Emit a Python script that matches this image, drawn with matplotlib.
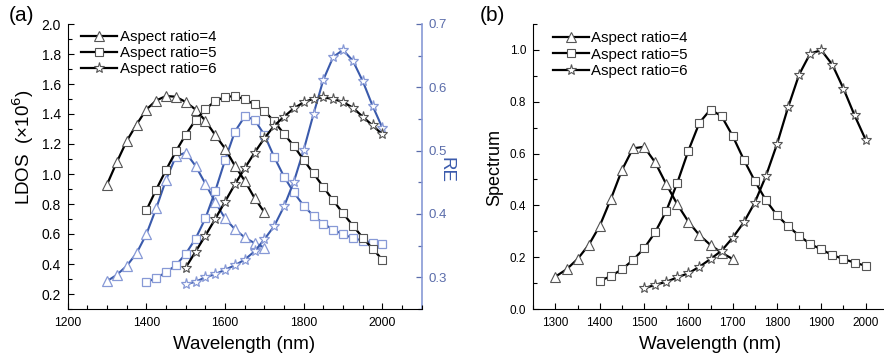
import numpy as np
import matplotlib
matplotlib.use("Agg")
import matplotlib.pyplot as plt
from matplotlib.ticker import MultipleLocator

plt.rcParams['font.family'] = ['Liberation Sans', 'DejaVu Sans']

# ---------------- data ----------------
wl4 = list(range(1300, 1701, 25))
wl5 = list(range(1400, 2001, 25))
wl6 = list(range(1500, 2001, 25))

ldos4 = [0.93, 1.08, 1.22, 1.33, 1.43, 1.49, 1.52, 1.515, 1.48, 1.43, 1.355, 1.26, 1.17,
         1.055, 0.955, 0.84, 0.745]
ldos5 = [0.758, 0.896, 1.027, 1.151, 1.262, 1.36, 1.431, 1.487, 1.513, 1.52, 1.498, 1.464,
         1.42, 1.351, 1.267, 1.187, 1.093, 1.004, 0.913, 0.824, 0.738, 0.656, 0.576, 0.502, 0.429]
ldos6 = [0.376, 0.482, 0.589, 0.70, 0.816, 0.931, 1.038, 1.142, 1.238, 1.322, 1.382, 1.438,
         1.478, 1.502, 1.511, 1.50, 1.48, 1.442, 1.382, 1.324, 1.264]

re4 = [0.294, 0.304, 0.318, 0.338, 0.368, 0.409, 0.454, 0.491, 0.497, 0.476, 0.448, 0.419,
       0.393, 0.376, 0.363, 0.354, 0.347]
re5 = [0.292, 0.299, 0.308, 0.319, 0.337, 0.361, 0.393, 0.436, 0.485, 0.530, 0.554, 0.549,
       0.525, 0.490, 0.459, 0.434, 0.413, 0.397, 0.385, 0.375, 0.368, 0.362, 0.358, 0.355, 0.353]
re6 = [0.289, 0.293, 0.300, 0.305, 0.312, 0.319, 0.328, 0.341, 0.360, 0.381, 0.412, 0.451,
       0.501, 0.558, 0.612, 0.648, 0.659, 0.642, 0.610, 0.571, 0.536]

spec4 = [0.125, 0.153, 0.193, 0.247, 0.321, 0.424, 0.536, 0.62, 0.626, 0.566, 0.482, 0.404,
         0.337, 0.285, 0.247, 0.217, 0.193]
spec5 = [0.108, 0.127, 0.153, 0.189, 0.234, 0.296, 0.378, 0.487, 0.611, 0.719, 0.770, 0.744,
         0.668, 0.577, 0.494, 0.420, 0.362, 0.320, 0.283, 0.251, 0.230, 0.208, 0.193, 0.179, 0.167]
spec6 = [0.080, 0.093, 0.105, 0.122, 0.138, 0.163, 0.193, 0.225, 0.275, 0.334, 0.411, 0.513,
         0.636, 0.778, 0.905, 0.986, 0.999, 0.943, 0.851, 0.748, 0.654]

labels = ['Aspect ratio=4', 'Aspect ratio=5', 'Aspect ratio=6']
markers = ['^', 's', '*']
msizes = [7.5, 6, 8]

BLUE = '#3a5aac'
LBLUE = '#8799d6'
TBLUE = '#5a6caa'
EDGE = '#555555'

fig = plt.figure(figsize=(8.84, 3.62), dpi=100)

# ---------------- panel (a) ----------------
ax = fig.add_axes([67.7/884, 1-309/362, 354/884, 285/362])
ax2 = ax.twinx()
ax.set_zorder(ax2.get_zorder() + 1)
ax.patch.set_visible(False)

for wl, ys, m, ms in zip([wl4, wl5, wl6], [re4, re5, re6], markers, msizes):
    ax2.plot(wl, ys, color=BLUE, lw=1.5, marker=m, ms=ms, mfc='white',
             mec=LBLUE, mew=0.9)

for wl, ys, m, ms, lab in zip([wl4, wl5, wl6], [ldos4, ldos5, ldos6], markers, msizes, labels):
    ax.plot(wl, ys, color='black', lw=1.6, marker=m, ms=ms, mfc='white',
            mec=EDGE, mew=0.8, label=lab)

ax.set_xlim(1200, 2100)
ax.set_ylim(0.1, 2.0)
ax2.set_ylim(0.25, 0.7)
ax.xaxis.set_major_locator(MultipleLocator(200))
ax.xaxis.set_minor_locator(MultipleLocator(50))
ax.yaxis.set_major_locator(MultipleLocator(0.2))
ax.yaxis.set_minor_locator(MultipleLocator(0.1))
ax2.yaxis.set_major_locator(MultipleLocator(0.1))
ax2.yaxis.set_minor_locator(MultipleLocator(0.05))
ax.yaxis.set_major_formatter(plt.FormatStrFormatter('%.1f'))
ax2.yaxis.set_major_formatter(plt.FormatStrFormatter('%.1f'))

for a in (ax, ax2):
    a.spines['top'].set_visible(False)
ax.spines['right'].set_visible(False)
ax2.spines['left'].set_visible(False)
ax2.spines['bottom'].set_visible(False)
ax2.spines['right'].set_color(LBLUE)
ax2.spines['right'].set_linewidth(1.2)

ax.tick_params(which='both', direction='in', width=0.8, pad=5)
ax.tick_params(axis='y', labelsize=10)
ax.tick_params(axis='x', labelsize=8.8, pad=6)
ax.tick_params(which='major', length=4)
ax.tick_params(which='minor', length=3)
ax2.tick_params(which='both', direction='in', labelsize=9.5, colors=TBLUE, width=0.9, pad=5)
ax2.tick_params(which='major', length=4)
ax2.tick_params(which='minor', length=3)

ax.set_xlabel('Wavelength (nm)', fontsize=13.5)
ax.xaxis.set_label_coords(0.498, -0.095)
ax.set_ylabel('LDOS  (×10$^6$)', fontsize=13.5)
ax.yaxis.set_label_coords(-0.09, 0.568)
ax2.set_ylabel('RE', fontsize=13.5, color=BLUE, rotation=-90, va='center')
ax2.yaxis.set_label_coords(1.068, 0.486)

ax.legend(loc='upper left', bbox_to_anchor=(0.02, 1.0), frameon=False, fontsize=10.8,
          handlelength=2.4, handletextpad=0.2, labelspacing=0.15, borderaxespad=0.0)

fig.text(9/884, 1-6/362, '(a)', fontsize=15, va='top')

# ---------------- panel (b) ----------------
bx = fig.add_axes([533.3/884, 1-309/362, 350/884, 285/362])
for wl, ys, m, ms, lab in zip([wl4, wl5, wl6], [spec4, spec5, spec6], markers, msizes, labels):
    bx.plot(wl, ys, color='black', lw=1.6, marker=m, ms=ms, mfc='white',
            mec=EDGE, mew=0.8, label=lab)
bx.set_xlim(1250, 2040)
bx.set_ylim(0, 1.1)
bx.xaxis.set_major_locator(MultipleLocator(100))
bx.xaxis.set_minor_locator(MultipleLocator(50))
bx.yaxis.set_major_locator(MultipleLocator(0.2))
bx.yaxis.set_minor_locator(MultipleLocator(0.1))
bx.yaxis.set_major_formatter(plt.FormatStrFormatter('%.1f'))
bx.spines['top'].set_visible(False)
bx.spines['right'].set_visible(False)
bx.tick_params(which='both', direction='in', labelsize=8.5, width=0.8, pad=5)
bx.tick_params(axis='x', pad=6)
bx.tick_params(which='major', length=4)
bx.tick_params(which='minor', length=3)
bx.set_xlabel('Wavelength (nm)', fontsize=13.5)
bx.xaxis.set_label_coords(0.505, -0.095)
bx.set_ylabel('Spectrum', fontsize=13)
bx.yaxis.set_label_coords(-0.087, 0.498)
bx.legend(loc='upper left', bbox_to_anchor=(0.04, 0.995), frameon=False, fontsize=10.8,
          handlelength=2.4, handletextpad=0.1, labelspacing=0.15, borderaxespad=0.0)
fig.text(480/884, 1-6/362, '(b)', fontsize=15, va='top')

fig.savefig('out.png', dpi=100)
